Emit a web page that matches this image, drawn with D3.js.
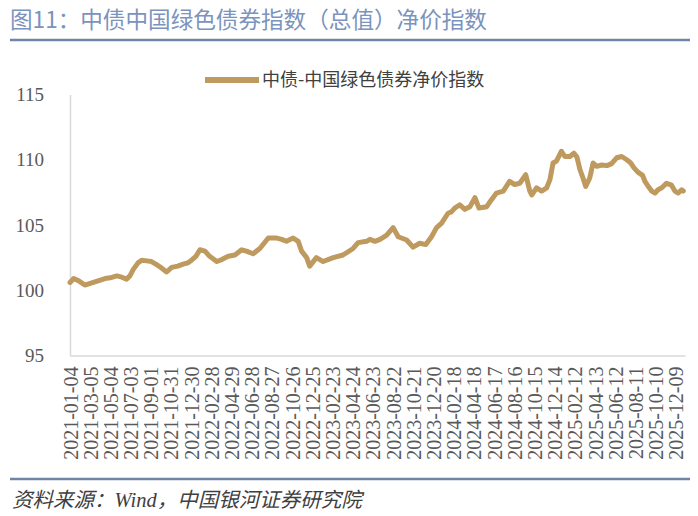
<!DOCTYPE html>
<html>
<head>
<meta charset="utf-8">
<script src="https://cdn.jsdelivr.net/npm/d3@7"></script>
<style>
  body { margin: 0; background: #fff; }
  svg { display: block; }
</style>
</head>
<body>
<svg id="chart" width="698" height="516"></svg>
<script>
const seriesName = '中债-中国绿色债券净价指数';

const dates = [
  '2021-01-04','2021-01-15','2021-01-31','2021-02-17','2021-03-19','2021-04-18','2021-05-03','2021-05-23',
  '2021-06-07','2021-06-21','2021-07-01','2021-07-11','2021-07-25','2021-08-05','2021-08-20','2021-09-03',
  '2021-09-16','2021-09-28','2021-10-18','2021-11-02','2021-11-20','2021-12-06','2021-12-20','2021-12-31',
  '2022-01-13','2022-01-25','2022-02-09','2022-02-23','2022-03-16','2022-03-31','2022-04-19','2022-05-09',
  '2022-05-29','2022-06-12','2022-07-02','2022-07-22','2022-08-16','2022-09-10','2022-09-25','2022-10-09',
  '2022-10-29','2022-11-13','2022-11-23','2022-12-08','2022-12-17','2023-01-06','2023-01-26','2023-02-25',
  '2023-03-26','2023-04-25','2023-05-10','2023-06-04','2023-06-14','2023-06-29','2023-07-14','2023-08-02',
  '2023-08-22','2023-09-06','2023-10-01','2023-10-20','2023-11-09','2023-11-27','2023-12-14','2023-12-29',
  '2024-01-13','2024-02-01','2024-02-11','2024-02-21','2024-03-07','2024-03-22','2024-04-06','2024-04-21',
  '2024-05-03','2024-05-26','2024-06-08','2024-06-24','2024-07-14','2024-08-02','2024-08-17','2024-09-01',
  '2024-09-19','2024-10-01','2024-10-07','2024-10-21','2024-11-05','2024-11-20','2024-11-30','2024-12-09',
  '2024-12-19','2025-01-03','2025-01-13','2025-01-28','2025-02-09','2025-02-18','2025-02-27','2025-03-08',
  '2025-03-16','2025-03-28','2025-04-07','2025-04-18','2025-05-03','2025-05-18','2025-06-01','2025-06-16',
  '2025-07-01','2025-07-16','2025-07-28','2025-08-06','2025-08-18','2025-09-01','2025-09-08','2025-09-18',
  '2025-09-28','2025-10-08','2025-10-17','2025-10-28','2025-11-11','2025-11-26','2025-12-06','2025-12-16',
  '2025-12-26','2025-12-31'
];

const values = [
  100.6, 100.9, 100.7, 100.4, 100.65, 100.9, 100.95, 101.1,
  101.0, 100.85, 101.1, 101.6, 102.1, 102.3, 102.25, 102.2,
  102.0, 101.8, 101.4, 101.75, 101.85, 102.0, 102.1, 102.3,
  102.6, 103.1, 103.0, 102.6, 102.2, 102.35, 102.6, 102.7,
  103.1, 103.0, 102.8, 103.2, 104.0, 104.0, 103.9, 103.75,
  104.0, 103.75, 103.0, 102.5, 101.85, 102.5, 102.2, 102.5,
  102.7, 103.2, 103.65, 103.75, 103.9, 103.75, 103.9, 104.2,
  104.8, 104.1, 103.85, 103.3, 103.6, 103.5, 104.1, 104.8,
  105.15, 105.9, 106.0, 106.3, 106.55, 106.2, 106.4, 107.1,
  106.3, 106.4, 106.9, 107.45, 107.6, 108.35, 108.1, 108.2,
  108.85, 107.6, 107.3, 107.85, 107.6, 107.85, 108.5, 109.75,
  109.9, 110.65, 110.25, 110.25, 110.5, 110.2, 109.25, 108.6,
  107.95, 108.6, 109.75, 109.5, 109.6, 109.55, 109.7, 110.15,
  110.25, 110.0, 109.75, 109.4, 109.05, 108.8, 108.35, 107.95,
  107.6, 107.45, 107.7, 107.85, 108.2, 108.05, 107.6, 107.45,
  107.7, 107.6
];

const tickLabels = [
  '2021-01-04','2021-03-05','2021-05-04','2021-07-03','2021-09-01','2021-10-31','2021-12-30',
  '2022-02-28','2022-04-29','2022-06-28','2022-08-27','2022-10-26','2022-12-25',
  '2023-02-23','2023-04-24','2023-06-23','2023-08-22','2023-10-21','2023-12-20',
  '2024-02-18','2024-04-18','2024-06-17','2024-08-16','2024-10-15','2024-12-14',
  '2025-02-12','2025-04-13','2025-06-12','2025-08-11','2025-10-10','2025-12-09'
];
const yTicks = [95, 100, 105, 110, 115];

const parse = d3.utcParse('%Y-%m-%d');
const fmt = d3.utcFormat('%Y-%m-%d');
const data = dates.map((d, i) => ({ date: parse(d), value: values[i] }));

const svg = d3.select('#chart');
const lineColor = '#bf9a5f';
const axisColor = '#d9d9d9';
const ruleColor = '#6f85a6';
const serif = '"Liberation Serif", "DejaVu Serif", serif';
const cjk = '"Noto Sans CJK SC", "Noto Sans", sans-serif';

// title + rule
svg.append('text')
  .attr('x', 10).attr('y', 28)
  .attr('font-family', cjk)
  .attr('font-size', 22.6)
  .attr('fill', '#7b93bd')
  .text('图11：中债中国绿色债券指数（总值）净价指数');
svg.append('line')
  .attr('x1', 10).attr('x2', 690)
  .attr('y1', 40).attr('y2', 40)
  .attr('stroke', ruleColor).attr('stroke-width', 2.5);

// scales
const x = d3.scaleUtc()
  .domain([parse('2021-01-04'), parse('2026-01-05')])
  .range([70, 685]);
const y = d3.scaleLinear()
  .domain([95, 115])
  .range([355.5, 94.5]);

// y axis
const yAxisG = svg.append('g')
  .attr('class', 'y-axis')
  .attr('transform', 'translate(70,0)')
  .call(d3.axisLeft(y).tickValues(yTicks).tickSize(0).tickPadding(26));
yAxisG.select('.domain').attr('stroke', axisColor).attr('stroke-width', 1.5);
yAxisG.selectAll('text')
  .attr('font-family', serif)
  .attr('font-size', 19)
  .attr('fill', '#595959');

// x axis
const xAxisG = svg.append('g')
  .attr('class', 'x-axis')
  .attr('transform', 'translate(0,355.5)')
  .call(d3.axisBottom(x).tickValues(tickLabels.map(parse)).tickFormat(fmt).tickSize(0));
xAxisG.select('.domain').attr('stroke', axisColor).attr('stroke-width', 1.5);
xAxisG.selectAll('text')
  .attr('font-family', serif)
  .attr('font-size', 20)
  .attr('fill', '#595959')
  .attr('text-anchor', 'end')
  .attr('dy', '0.35em')
  .attr('transform', 'translate(0,11) rotate(-90)')
  .attr('y', 0).attr('x', 0);

// line
const line = d3.line()
  .x(d => x(d.date))
  .y(d => y(d.value));
svg.append('path')
  .datum(data)
  .attr('fill', 'none')
  .attr('stroke', lineColor)
  .attr('stroke-width', 5)
  .attr('stroke-linejoin', 'round')
  .attr('stroke-linecap', 'round')
  .attr('d', line);

// legend
svg.append('line')
  .attr('x1', 205).attr('x2', 259)
  .attr('y1', 80).attr('y2', 80)
  .attr('stroke', lineColor).attr('stroke-width', 6);
svg.append('text')
  .attr('x', 262).attr('y', 86)
  .attr('font-family', cjk)
  .attr('font-size', 18)
  .attr('fill', '#404040')
  .text(seriesName);

// footer
svg.append('line')
  .attr('x1', 10).attr('x2', 690)
  .attr('y1', 479).attr('y2', 479)
  .attr('stroke', ruleColor).attr('stroke-width', 2.5);
svg.append('text')
  .attr('x', 12).attr('y', 507)
  .attr('font-family', '"Liberation Serif", "Noto Sans CJK SC", serif')
  .attr('font-style', 'italic')
  .attr('font-size', 20.5)
  .attr('fill', '#404040')
  .text('资料来源：Wind，中国银河证券研究院');
</script>
</body>
</html>
